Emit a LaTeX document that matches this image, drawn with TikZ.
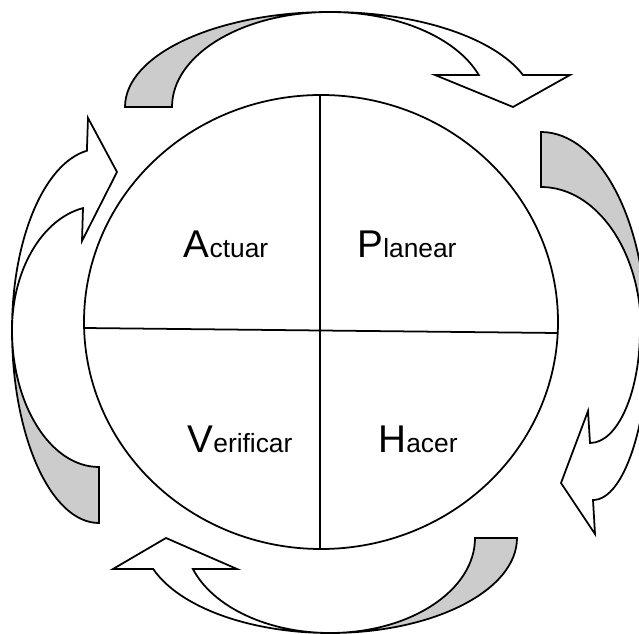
\documentclass[tikz,border=0pt]{standalone}
\usepackage{fontspec}
\setmainfont{Liberation Sans}
\definecolor{ribbongray}{gray}{0.8}
\newcommand{\stage}[2]{{\fontsize{22}{22}\selectfont #1}{\fontsize{15}{15}\selectfont #2}}
\tikzset{
  backside/.style={draw, fill=ribbongray, line width=1pt},
  frontside/.style={draw, fill=white, line width=1pt},
  divider/.style={line width=1pt},
  stagelabel/.style={anchor=base, inner sep=0pt}
}

\begin{document}
\begin{tikzpicture}[x=0.02cm, y=-0.02cm]
  \useasboundingbox (0,0) rectangle (639,634);
  \clip (0,0) rectangle (639,634);
  % Wheel with its four quarters
  \draw[divider] (321,322) ellipse[x radius=237, y radius=227];
  \coordinate (wtop) at (320,95);
  \coordinate (wbot) at (320,549);
  \coordinate (wleft) at (84,328);
  \coordinate (wright) at (557,333);
  \draw[divider] (wtop) -- (wbot);
  \draw[divider] (wleft) -- (wright);
  \node[stagelabel] (act) at (226,258) {\stage{A}{ctuar}};
  \node[stagelabel] (plan) at (407,258) {\stage{P}{lanear}};
  \node[stagelabel] (ver) at (240,453) {\stage{V}{erificar}};
  \node[stagelabel] (hac) at (418,453) {\stage{H}{acer}};
  % Top arrow
  \draw[backside] (125,107)
    arc[start angle=180, end angle=270, x radius=205, y radius=95]
    arc[start angle=270, end angle=180, x radius=158, y radius=95] -- cycle;
  \draw[frontside] (330,12)
    arc[start angle=270, end angle=340.3, x radius=205, y radius=95]
    -- (570,75) -- (513,107) -- (435,75) -- (478.8,75)
    arc[start angle=340.3, end angle=270, x radius=158, y radius=95] -- cycle;
  % Right arrow
  \draw[backside] (541,132)
    arc[start angle=270, end angle=360, x radius=105, y radius=198]
    -- (641,330)
    arc[start angle=0, end angle=-90, x radius=100, y radius=143] -- cycle;
  \draw[frontside] (649,330)
    arc[start angle=0, end angle=90, x radius=56, y radius=170]
    -- (595,534) -- (561,483) -- (588,411) -- (590,443)
    arc[start angle=90, end angle=0, x radius=50, y radius=113] -- cycle;
  % Bottom arrow
  \draw[backside] (517,538)
    arc[start angle=0, end angle=90, x radius=187, y radius=95]
    arc[start angle=90, end angle=0, x radius=145, y radius=95] -- cycle;
  \draw[frontside] (330,633)
    arc[start angle=90, end angle=160.95, x radius=187, y radius=95]
    -- (113,569) -- (166,538) -- (237,569) -- (192.9,569)
    arc[start angle=160.95, end angle=90, x radius=145, y radius=95] -- cycle;
  % Left arrow
  \draw[backside] (99,523)
    arc[start angle=90, end angle=180, x radius=87, y radius=193]
    arc[start angle=180, end angle=90, x radius=87, y radius=137] -- cycle;
  \draw[frontside] (12,330)
    arc[start angle=180, end angle=262, x radius=87, y radius=181]
    -- (88,118) -- (117,172) -- (82,241) -- (83,208.1)
    arc[start angle=259.4, end angle=180, x radius=87, y radius=124] -- cycle;
\end{tikzpicture}
\end{document}
